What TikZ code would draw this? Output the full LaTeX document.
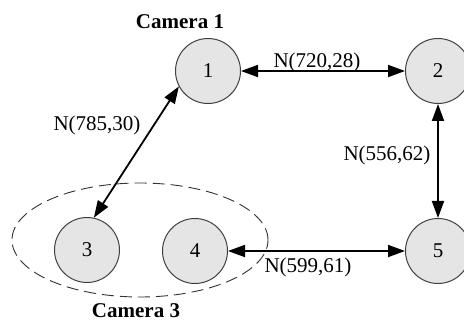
\documentclass[tikz,border=0pt]{standalone}
\usepackage{fontspec}
\setmainfont{Liberation Serif}
\usetikzlibrary{arrows.meta,shapes.geometric}
\begin{document}
\begin{tikzpicture}[x=1pt,y=1pt,
  cam/.style={circle,draw=black!75,line width=1pt,fill=black!10,minimum size=65pt,inner sep=0pt,font=\fontsize{21}{24}\selectfont},
  link/.style={line width=1.8pt,{Triangle[length=17pt,width=12pt]}-{Triangle[length=17pt,width=12pt]}},
  lbl/.style={font=\fontsize{21}{24}\selectfont,inner sep=0pt},
  camlbl/.style={font=\fontsize{21}{24}\selectfont\bfseries,inner sep=0pt}]
\useasboundingbox (0,0) rectangle (464,322);
\node[cam] (n1) at (208,251) {1};
\node[cam] (n2) at (438,251) {2};
\node[cam] (n3) at (87,72) {3};
\node[cam] (n4) at (195,71) {4};
\node[cam] (n5) at (438,71) {5};
\node[draw=black!80,line width=0.9pt,dash pattern=on 12pt off 6pt,ellipse,minimum width=256pt,minimum height=114pt,inner sep=0pt] (grp) at (140,82) {};
\draw[link] (n3.78) -- (n1.208);
\draw[link] (n1.east) -- (n2.west);
\draw[link] (n2.south) -- (n5.north);
\draw[link] (n4.east) -- (n5.west);
\node[lbl] (l12) at (317,260) {N(720,28)};
\node[lbl] (l13) at (97,197) {N(785,30)};
\node[lbl] (l25) at (387,167) {N(556,62)};
\node[lbl] (l45) at (308,55) {N(599,61)};
\node[camlbl] (c1) at (180,300) {Camera 1};
\node[camlbl] (c3) at (136,11) {Camera 3};
\end{tikzpicture}
\end{document}
